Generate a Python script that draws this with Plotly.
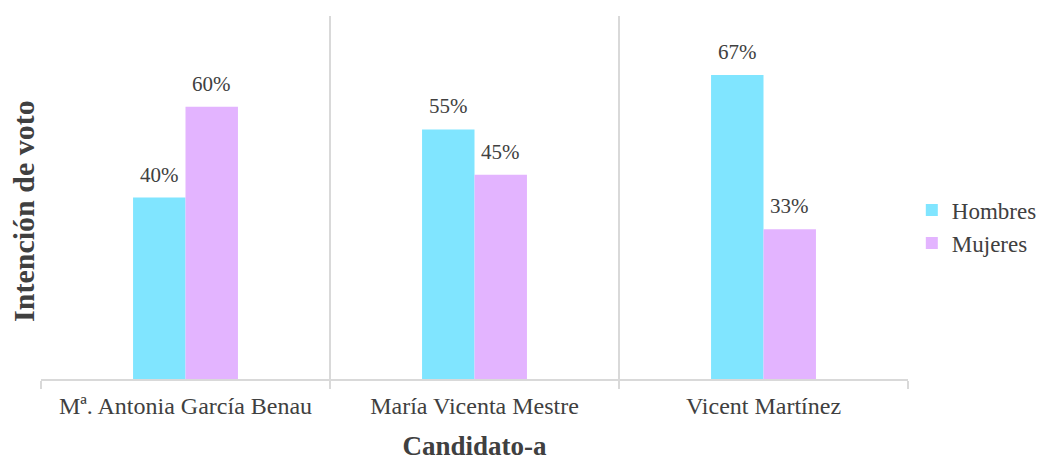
import plotly.graph_objects as go

categories = ["Mª. Antonia García Benau", "María Vicenta Mestre", "Vicent Martínez"]
hombres = [40, 55, 67]
mujeres = [60, 45, 33]
series_names = ["Hombres", "Mujeres"]
colors = ["#80E5FF", "#E3B4FF"]

FONT = "Liberation Serif, Times New Roman, serif"
TXT = "#404040"
BARGAP = 0.637

fig = go.Figure()
for name, vals, col in zip(series_names, [hombres, mujeres], colors):
    fig.add_trace(go.Bar(
        x=categories, y=vals, name=name,
        marker=dict(color=col, line=dict(width=0)),
        cliponaxis=False,
    ))

# data labels as annotations above each bar
bar_w = (1 - BARGAP) / len(series_names)
for s, vals in enumerate([hombres, mujeres]):
    off = (s - (len(series_names) - 1) / 2) * bar_w
    for i, v in enumerate(vals):
        fig.add_annotation(
            x=i + off, y=v, xref="x", yref="y", text=f"{v}%",
            showarrow=False, yanchor="bottom", xanchor="center", yshift=9,
            font=dict(family=FONT, size=21, color=TXT),
        )

fig.add_annotation(
    x=-0.0196, y=0.463, xref="paper", yref="paper", text="<b>Intención de voto</b>",
    textangle=-90, showarrow=False, xanchor="center", yanchor="middle",
    borderpad=0,
    font=dict(family=FONT, size=30, color=TXT),
)

fig.update_layout(
    width=1100, height=467,
    margin=dict(l=33, r=200, t=8, b=96),
    paper_bgcolor="white", plot_bgcolor="white",
    barmode="group", bargap=BARGAP, bargroupgap=0,
    font=dict(family=FONT, size=22, color=TXT),
    legend=dict(x=1.0044, y=0.42, xanchor="left", yanchor="middle",
                font=dict(family=FONT, size=23, color=TXT),
                itemwidth=30, tracegroupgap=2),
    showlegend=True,
)
fig.update_xaxes(
    automargin=False,
    tickson="boundaries", showgrid=True, gridcolor="#D9D9D9", gridwidth=2,
    showline=True, linecolor="#D9D9D9", linewidth=2,
    ticks="outside", ticklen=8, tickcolor="#D9D9D9", tickwidth=2,
    ticklabelstandoff=4,
    tickfont=dict(family=FONT, size=24, color=TXT),
    title=dict(text="<b>Candidato-a</b>", font=dict(family=FONT, size=27, color=TXT), standoff=18),
)
fig.update_yaxes(
    automargin=False,
    range=[0, 80], showgrid=False, showticklabels=False, zeroline=False, showline=False,
)

fig.write_html("out.html")
